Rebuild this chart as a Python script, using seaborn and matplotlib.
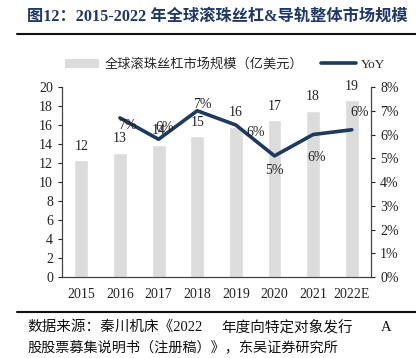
import matplotlib
matplotlib.use("Agg")
import matplotlib.pyplot as plt
import seaborn as sns
import pandas as pd
from matplotlib.lines import Line2D
from matplotlib.patches import Patch

years = ["2015", "2016", "2017", "2018", "2019", "2020", "2021", "2022E"]
market = [12.3, 13.1, 13.9, 14.8, 15.8, 16.5, 17.5, 18.6]
market_labels = ["12", "13", "14", "15", "16", "17", "18", "19"]
yoy_years = ["2016", "2017", "2018", "2019", "2020", "2021", "2022E"]
yoy = [6.7, 5.8, 7.0, 6.4, 5.1, 6.0, 6.2]
yoy_labels = ["7%", "6%", "7%", "6%", "5%", "6%", "6%"]

sns.set_theme(style="white")
FAM = ["Liberation Serif", "Noto Sans CJK SC", "DejaVu Sans"]
plt.rcParams["font.family"] = FAM

NAVY = "#1F3A5F"
GRAY = "#DCDCDC"

fig = plt.figure(figsize=(4.16, 3.58), dpi=100)
ax = fig.add_axes([0.149, 0.226, 0.743, 0.531])

df = pd.DataFrame({"year": years, "market": market})
sns.barplot(data=df, x="year", y="market", color=GRAY, width=0.36,
            saturation=1, ax=ax, order=years)
ax.set_ylim(0, 20)
ax.set_yticks(range(0, 21, 2))
ax.set_xlabel("")
ax.set_ylabel("")
for i, (v, t) in enumerate(zip(market, market_labels)):
    ax.text(i, v + 0.8, t, ha="center", va="bottom", fontsize=10, color="#222222")

ax2 = ax.twinx()
dfy = pd.DataFrame({"year": yoy_years, "yoy": yoy})
dfy["pos"] = [years.index(y) for y in yoy_years]
sns.lineplot(data=dfy, x="pos", y="yoy", color=NAVY, linewidth=2.6, ax=ax2)
ax2.set_ylim(0, 8)
ax2.set_yticks(range(0, 9))
ax2.set_yticklabels([f"{i}%" for i in range(0, 9)])
ax2.set_ylabel("")
ax2.set_xlabel("")
ax.set_xlim(-0.5, len(years) - 0.5)
ax2.set_xlim(-0.5, len(years) - 0.5)

# YoY label offsets (in data units)
offs = [(0.2, -0.33), (0.15, 0.5), (0.13, 0.28), (0.52, -0.3), (0.0, -0.6), (0.1, -0.95), (0.2, 0.73)]
for p, v, t, (dx, dy) in zip(dfy["pos"], yoy, yoy_labels, offs):
    ax2.text(p + dx, v + dy, t, ha="center", va="center", fontsize=10, color="#222222")

for a in (ax, ax2):
    for s in a.spines.values():
        s.set_color("#444444")
        s.set_linewidth(0.9)
    a.spines["top"].set_visible(False)
    a.tick_params(labelsize=10, colors="#222222", length=3, width=0.8)
    a.grid(False)
ax.spines["right"].set_visible(False)
ax.tick_params(axis="x", length=0, pad=8)
ax.tick_params(axis="y", direction="out", left=True, length=3)
ax2.tick_params(axis="y", direction="out", right=True, length=3)
ax2.spines["left"].set_visible(False)
ax2.spines["bottom"].set_visible(False)

# Title
fig.text(0.065, 0.953, "图12：2015-2022 年全球滚珠丝杠&导轨整体市场规模",
         fontsize=11.7, fontweight="bold", color="#1F3864", ha="left", va="center",
         family=["Liberation Serif", "Noto Sans CJK SC"])
fig.add_artist(Line2D([0.04, 1.0], [0.905, 0.905], color="#111111", lw=1.5))

# Legend
handles = [Patch(facecolor=GRAY, edgecolor="none", label="全球滚珠丝杠市场规模（亿美元）"),
           Line2D([0], [0], color=NAVY, lw=2.6, label="YoY")]
fig.legend(handles=handles, loc="center", bbox_to_anchor=(0.541, 0.82), ncol=2,
           frameon=False, handlelength=2.6, columnspacing=1.35,
           handletextpad=0.4, prop={"family": ["Liberation Serif", "Noto Sans CJK SC"], "size": 9.5})

# Footer
fig.add_artist(Line2D([0.04, 1.0], [0.128, 0.128], color="#111111", lw=1.5))
FY1 = 0.086
fig.text(27 / 416, FY1, "数据来源：秦川机床《2022", fontsize=10.5,
         ha="left", va="center", color="#111111")
fig.text(287 / 416, FY1, "年度向特定对象发行", fontsize=10.5,
         ha="center", va="center", color="#111111")
fig.text(386 / 416, FY1, "A", fontsize=10.5,
         ha="center", va="center", color="#111111")
fig.text(27 / 416, 0.03, "股股票募集说明书（注册稿）》，东吴证券研究所", fontsize=10.2,
         ha="left", va="center", color="#111111")

fig.savefig("out.png", dpi=100)
